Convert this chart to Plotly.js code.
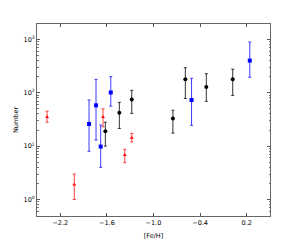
<!DOCTYPE html>
<html>
<head>
<script src="https://cdn.plot.ly/plotly-3.0.1.min.js"></script>
<style>html,body{margin:0;padding:0;background:#fff}#chart{width:300px;height:240px}</style>
</head>
<body>
<div id="chart"></div>
<script>
const xTickVals = [-2.2, -1.6, -1.0, -0.4, 0.2];
const xTickText = ["\u22122.2", "\u22121.6", "\u22121.0", "\u22120.4", "0.2"];
const yTickVals = [1, 10, 100, 1000];
const yTickText = ["10<sup>0</sup>", "10<sup>1</sup>", "10<sup>2</sup>", "10<sup>3</sup>"];

const redX = [-2.37, -2.02, -1.65, -1.37, -1.28];
const redY = [35, 1.9, 35, 6.8, 14.3];
const redPlus = [10, 1.1, 15, 1.9, 3];
const redMinus = [7, 0.9, 12, 1.9, 2.3];

const blueX = [-1.83, -1.74, -1.68, -1.55, -0.51, 0.24];
const blueY = [26, 58, 9.8, 101, 73, 400];
const bluePlus = [47, 120, 15, 99, 113, 490];
const blueMinus = [18, 45, 5.8, 45, 48.5, 205];

const blackX = [-1.62, -1.44, -1.28, -0.75, -0.59, -0.32, 0.02];
const blackY = [19, 42, 75, 33, 178, 128, 178];
const blackPlus = [9, 24, 36, 14, 116, 100, 98];
const blackMinus = [9, 20.6, 34, 15.5, 100, 59, 89];

function series(x, y, plus, minus, color, barColor, symbol, size) {
  return {
    x: x, y: y, type: 'scatter', mode: 'markers',
    marker: {color: color, symbol: symbol, size: size},
    error_y: {type: 'data', array: plus, arrayminus: minus, color: barColor, thickness: 1, width: 1.5},
    showlegend: false
  };
}

const data = [
  series(redX, redY, redPlus, redMinus, '#ff0000', '#ff4040', 'triangle-up', 3.5),
  series(blueX, blueY, bluePlus, blueMinus, '#0000ff', '#3b3bff', 'square', 4),
  series(blackX, blackY, blackPlus, blackMinus, '#000000', '#333333', 'circle', 4)
];

const fontFam = 'DejaVu Sans, sans-serif';
const layout = {
  width: 300, height: 240,
  margin: {l: 37, r: 30, t: 24, b: 24},
  paper_bgcolor: '#fff', plot_bgcolor: '#fff',
  font: {family: fontFam, size: 6.5, color: '#000'},
  xaxis: {
    range: [-2.5, 0.5],
    tickvals: xTickVals, ticktext: xTickText,
    ticks: 'inside', ticklen: 3, tickcolor: '#555',
    showline: true, linecolor: '#666', linewidth: 1, mirror: 'ticks',
    showgrid: false, zeroline: false,
    title: {text: '[Fe/H]', font: {size: 6.5, color: '#000'}, standoff: 7}
  },
  yaxis: {
    type: 'log',
    range: [Math.log10(0.49), Math.log10(1940)],
    tickvals: yTickVals, ticktext: yTickText,
    ticks: 'inside', ticklen: 3, tickcolor: '#555',
    minor: {ticks: 'inside', ticklen: 1.5, tickcolor: '#777', dtick: 'D1', showgrid: false},
    showline: true, linecolor: '#666', linewidth: 1, mirror: 'ticks',
    showgrid: false, zeroline: false
  },
  annotations: [{
    text: 'Number', xref: 'paper', yref: 'paper', x: -0.09, y: 0.5,
    xanchor: 'center', yanchor: 'middle', textangle: -90, showarrow: false,
    font: {size: 6.5, color: '#000'}
  }]
};

Plotly.newPlot('chart', data, layout, {displayModeBar: false, staticPlot: true});
</script>
</body>
</html>
